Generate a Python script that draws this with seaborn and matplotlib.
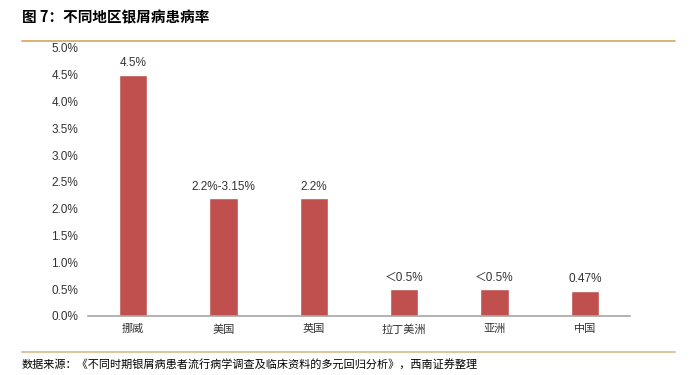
import numpy as np
import pandas as pd
import seaborn as sns
import matplotlib.pyplot as plt
from matplotlib.lines import Line2D

# data
regions = ['挪威', '美国', '英国', '拉丁美洲', '亚洲', '中国']
prevalence = [4.5, 2.2, 2.2, 0.5, 0.5, 0.47]
bar_labels = ['4.5%', '2.2%-3.15%', '2.2%', '＜0.5%', '＜0.5%', '0.47%']
yticks = [0.0, 0.5, 1.0, 1.5, 2.0, 2.5, 3.0, 3.5, 4.0, 4.5, 5.0]

sns.set_theme(style='white')
plt.rcParams['font.family'] = ['Noto Sans CJK SC', 'DejaVu Sans']
num_font = ['Liberation Sans', 'Noto Sans CJK SC']

df = pd.DataFrame({'region': regions, 'value': prevalence})

fig = plt.figure(figsize=(6.89, 3.75), dpi=100)
ax = fig.add_axes([88 / 689, 1 - 316 / 375, 542 / 689, 268 / 375])

sns.barplot(data=df, x='region', y='value', color='#C0504D', width=0.31,
            saturation=1, ax=ax)

for i, (v, lab) in enumerate(zip(prevalence, bar_labels)):
    ax.text(i, v + 0.1, lab, ha='center', va='bottom', fontsize=8.5,
            color='#333333', family=num_font)

ax.set_ylim(0, 5.0)
ax.set_xlim(-0.5, len(regions) - 0.5)
ax.set_yticks(yticks)
ax.set_yticklabels([f'{t:.1f}%' for t in yticks], fontsize=8.5, color='#333333',
                   family=num_font)
ax.tick_params(axis='x', labelsize=8, colors='#333333', length=0, pad=6)
ax.tick_params(axis='y', length=0, pad=7)
ax.set_xlabel('')
ax.set_ylabel('')
for s in ['top', 'right', 'left']:
    ax.spines[s].set_visible(False)
ax.spines['bottom'].set_color('#A6A6A6')
ax.spines['bottom'].set_linewidth(1.2)

# title and rules
fig.text(22 / 689, 1 - 17 / 375, '图 7：不同地区银屑病患病率', fontsize=10.5,
         fontweight='bold', va='center', ha='left', color='#000000')
fig.add_artist(Line2D([22 / 689, 675 / 689], [1 - 41 / 375, 1 - 41 / 375],
                      color='#D9A35F', lw=1.2))
fig.add_artist(Line2D([22 / 689, 675 / 689], [1 - 352 / 375, 1 - 352 / 375],
                      color='#D9C8A0', lw=1.5))
fig.text(22 / 689, 1 - 365 / 375,
         '数据来源：《不同时期银屑病患者流行病学调查及临床资料的多元回归分析》，西南证券整理',
         fontsize=8, style='italic', va='center', ha='left', color='#000000')

fig.savefig('out.png', dpi=100)
